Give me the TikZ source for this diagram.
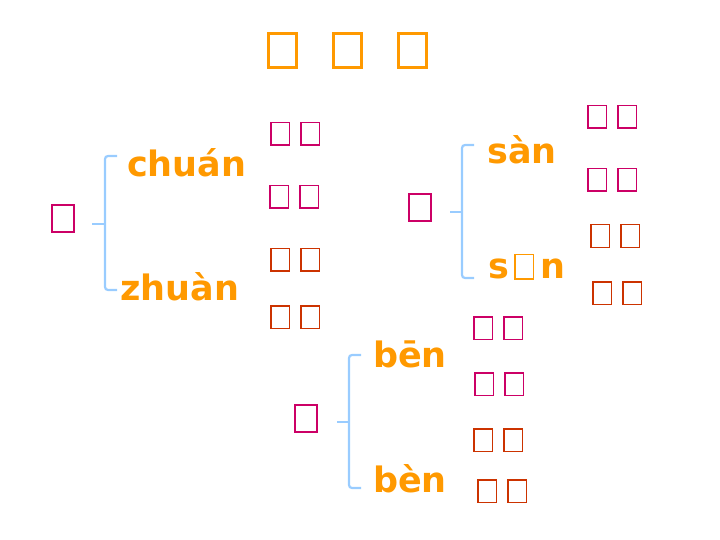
\documentclass[tikz,border=0pt]{standalone}
\usepackage{fontspec}
\setsansfont{DejaVu Sans}
\definecolor{pyorange}{HTML}{FF9900}
\definecolor{wmag}{HTML}{CC0066}
\definecolor{wred}{HTML}{CC3300}
\definecolor{braceblue}{HTML}{99CCFF}
\newcommand{\holebox}{{\color{pyorange}\fboxrule=1.5pt\fboxsep=0pt\fbox{\rule{0pt}{23pt}\hspace{17pt}}}}
\newcommand{\wordpair}[5]{%
  \node[wbox,#2] (#1a) at (#3,#5) {};
  \node[wbox,#2] (#1b) at (#4,#5) {};}
\begin{document}
\begin{tikzpicture}[x=1pt,y=-1pt,
  titlebox/.style={draw=pyorange, line width=3pt, minimum width=28pt, minimum height=34pt, inner sep=0pt},
  charbox/.style={draw=wmag, line width=2pt, minimum width=22pt, minimum height=27pt, inner sep=0pt},
  wbox/.style={line width=1.5pt, minimum width=18.5pt, minimum height=22.5pt, inner sep=0pt},
  wm/.style={draw=wmag},
  wr/.style={draw=wred},
  pinyin/.style={text=pyorange, font=\sffamily\bfseries\fontsize{35}{40}\selectfont, inner sep=0pt, anchor=base west},
  brace/.style={draw=braceblue, line width=2.2pt, rounded corners=3pt},
  bracetip/.style={draw=braceblue, line width=2.2pt}]
\useasboundingbox (0,0) rectangle (720,540);

% title
\node[titlebox] (t1) at (282.5,50.5) {};
\node[titlebox] (t2) at (347.5,50.5) {};
\node[titlebox] (t3) at (412,50.5) {};

% first character: chuan / zhuan
\node[charbox] (c1) at (63,218.5) {};
\node[pinyin] (c1up) at (127,177) {chuán};
\node[pinyin] (c1dn) at (120,300) {zhuàn};
\coordinate (c1m) at (105,224);
\coordinate (c1tip) at (92,224);
\draw[brace] (117,156) -- (105,156) -- (105,290) -- (117,290);
\draw[bracetip] (c1tip) -- (c1m);
\wordpair{w11}{wm}{280}{310}{134}
\wordpair{w12}{wm}{279}{309}{197}
\wordpair{w13}{wr}{280}{310}{259.5}
\wordpair{w14}{wr}{280}{310}{317}

% second character: san / san (third tone)
\node[charbox] (c2) at (420,207.5) {};
\node[pinyin] (c2up) at (487,164) {sàn};
\node[pinyin] (c2dn) at (488,278) {s\hspace{5pt}\holebox\hspace{6pt}n};
\coordinate (c2m) at (462,212);
\coordinate (c2tip) at (450,212);
\draw[brace] (474,145) -- (462,145) -- (462,278) -- (474,278);
\draw[bracetip] (c2tip) -- (c2m);
\wordpair{w21}{wm}{597}{627}{117}
\wordpair{w22}{wm}{597}{627}{180}
\wordpair{w23}{wr}{600}{630}{236}
\wordpair{w24}{wr}{602}{632}{293}

% third character: ben / ben (fourth tone)
\node[charbox] (c3) at (305.5,418) {};
\node[pinyin] (c3up) at (373,367) {bēn};
\node[pinyin] (c3dn) at (373,492) {bèn};
\coordinate (c3m) at (349,422);
\coordinate (c3tip) at (337,422);
\draw[brace] (361,355) -- (349,355) -- (349,488) -- (361,488);
\draw[bracetip] (c3tip) -- (c3m);
\wordpair{w31}{wm}{483}{513}{328}
\wordpair{w32}{wm}{484}{514}{384}
\wordpair{w33}{wr}{483}{513}{440}
\wordpair{w34}{wr}{487}{517}{491}
\end{tikzpicture}
\end{document}
